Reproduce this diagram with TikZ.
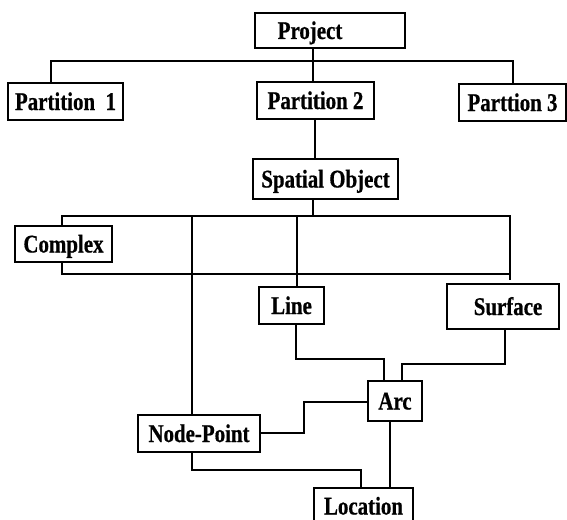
\documentclass[tikz,border=0pt]{standalone}
\usepackage{fontspec}
\setmainfont{Liberation Serif}[FakeStretch=0.82, BoldFeatures={FakeBold=0.6}]
\begin{document}
\begin{tikzpicture}[x=1pt,y=-1pt,
  box/.style={draw, line width=2pt, inner sep=0pt,
    font=\fontsize{25.5}{25.5}\selectfont\bfseries,
    text height=17pt, text depth=0pt},
  conn/.style={line width=1.4pt}]
\useasboundingbox (0,0) rectangle (567,519);
\clip (0,0) rectangle (567,519);
\fill[white] (0,0) rectangle (567,519);
% boxes
\node[box, minimum width=150pt, minimum height=35pt] (project) at (330,30.5) {Project\hspace*{40pt}};
\node[box, minimum width=115pt, minimum height=37pt] (p1) at (65.5,101.5) {Partition\ \ 1};
\node[box, minimum width=117pt, minimum height=37pt] (p2) at (315.5,100.5) {Partition 2};
\node[box, minimum width=107pt, minimum height=37pt] (p3) at (512.5,102.5) {Parttion 3};
\node[box, minimum width=145pt, minimum height=40pt] (spatial) at (325.5,179) {Spatial\ Object};
\node[box, minimum width=97pt, minimum height=36pt] (complex) at (63.5,244) {Complex};
\node[box, minimum width=65pt, minimum height=37pt] (line) at (291.5,305.5) {Line};
\node[box, minimum width=112pt, minimum height=45pt] (surface) at (503,306.5) {\hspace*{10pt}Surface};
\node[box, minimum width=54pt, minimum height=40pt] (arc) at (395,401) {Arc};
\node[box, minimum width=122pt, minimum height=37pt] (nodept) at (199,433.5) {Node-Point};
\node[box, minimum width=99pt, minimum height=36pt] (location) at (363.5,506) {Location};
% junction points
\coordinate (j1) at (313,61);
\coordinate (b1l) at (51,61);
\coordinate (b1r) at (513,61);
\coordinate (j2) at (315,140);
\coordinate (b2m) at (313,216);
\coordinate (b2l) at (62,216);
\coordinate (b2r) at (510,216);
\coordinate (b3l) at (62,274);
\coordinate (b3r) at (510,274);
\coordinate (rend) at (510,280);
\coordinate (v1) at (192,216);
\coordinate (v2) at (297,216);
\coordinate (la) at (296,359);
\coordinate (la2) at (384,359);
\coordinate (sa) at (505,364);
\coordinate (sa2) at (402,364);
\coordinate (an) at (304,402);
\coordinate (an2) at (304,433);
\coordinate (nl) at (192,470);
\coordinate (nl2) at (361,470);
\coordinate (al) at (390,450);
% connectors
\draw[conn] (project.south -| j1) -- (p2.north -| j1);
\draw[conn] (p1.north -| b1l) -- (b1l) -- (b1r) -- (p3.north -| b1r);
\draw[conn] (p2.south -| j2) -- (spatial.north -| j2);
\draw[conn] (spatial.south -| b2m) -- (b2m);
\draw[conn] (complex.north -| b2l) -- (b2l) -- (b2r) -- (rend);
\draw[conn] (complex.south -| b3l) -- (b3l) -- (b3r);
\draw[conn] (v1) -- (nodept.north -| v1);
\draw[conn] (v2) -- (line.north -| v2);
\draw[conn] (line.south -| la) -- (la) -- (la2) -- (arc.north -| la2);
\draw[conn] (surface.south -| sa) -- (sa) -- (sa2) -- (arc.north -| sa2);
\draw[conn] (arc.west |- an) -- (an) -- (an2) -- (nodept.east |- an2);
\draw[conn] (nodept.south -| nl) -- (nl) -- (nl2) -- (location.north -| nl2);
\draw[conn] (arc.south -| al) -- (location.north -| al);
\end{tikzpicture}
\end{document}
